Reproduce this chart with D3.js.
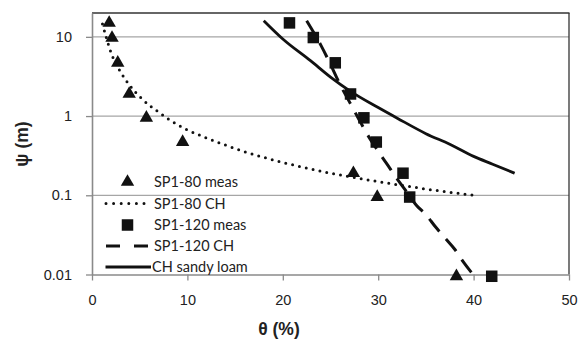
<!DOCTYPE html>
<html>
<head>
<meta charset="utf-8">
<script src="https://cdn.jsdelivr.net/npm/d3@7/dist/d3.min.js"></script>
<style>
  html, body { margin: 0; padding: 0; background: #fff; }
  svg { display: block; }
</style>
</head>
<body>
<svg id="chart" width="582" height="340"></svg>
<script>
// ---- data ----
const xTicks = [0, 10, 20, 30, 40, 50];
const yTicks = [0.01, 0.1, 1, 10];
const yTickLabels = ["0.01", "0.1", "1", "10"];

const sp80MeasTheta = [1.8, 2.1, 2.7, 3.9, 5.7, 9.5, 27.4, 29.9, 38.2];
const sp80MeasPsi   = [15, 9.7, 4.7, 1.9, 0.95, 0.47, 0.19, 0.095, 0.0095];

const sp120MeasTheta = [20.7, 23.2, 25.5, 27.1, 28.5, 29.8, 32.6, 33.3, 41.9];
const sp120MeasPsi   = [15, 9.8, 4.7, 1.9, 0.95, 0.47, 0.19, 0.095, 0.0095];

const sp80ChTheta = [1.1, 1.5, 2, 3, 4, 5, 6, 7, 8, 10, 12, 14, 16, 20, 25, 30, 35, 40];
const sp80ChPsi   = [14.5, 9.8, 6.3, 3.6, 2.4, 1.76, 1.37, 1.12, 0.92, 0.67, 0.53, 0.43, 0.355, 0.26, 0.19, 0.149, 0.12, 0.1];

const sp120ChTheta = [22.5, 24, 25, 26, 27, 28, 29, 30, 31, 32, 33, 34, 35, 36, 37, 38, 39, 40];
const sp120ChPsi   = [16, 7.8, 4.5, 2.5, 1.5, 0.9, 0.55, 0.36, 0.24, 0.16, 0.11, 0.075, 0.057, 0.04, 0.029, 0.021, 0.014, 0.0098];

const loamTheta = [18, 20, 22.9, 25, 27.1, 30, 32, 35, 37.5, 40, 42, 44.3];
const loamPsi   = [16, 9.4, 5, 3.1, 2.05, 1.28, 0.94, 0.6, 0.44, 0.31, 0.247, 0.19];

const legendLabels = ["SP1-80 meas", "SP1-80 CH", "SP1-120 meas", "SP1-120 CH", "CH sandy loam"];

// ---- layout ----
const svg = d3.select("#chart");
const L = 92, R = 569, T = 13, B = 274.5;
const x = d3.scaleLinear().domain([0, 50]).range([L, R]);
const y = d3.scaleLog().domain([0.01, 20]).range([B, T]);

const axisColor = "#8a8a8a";
const gridColor = "#a6a6a6";
const tickFont = "Liberation Sans, Arial, sans-serif";

// grid lines
svg.append("g").selectAll("line")
  .data(yTicks.filter(v => v > 0.01))
  .join("line")
  .attr("x1", L).attr("x2", R)
  .attr("y1", d => y(d)).attr("y2", d => y(d))
  .attr("stroke", gridColor).attr("stroke-width", 1.2);

// top & right border
svg.append("line").attr("x1", L).attr("x2", R + 0.5).attr("y1", T).attr("y2", T)
  .attr("stroke", "#333").attr("stroke-width", 1.3);
svg.append("line").attr("x1", R).attr("x2", R).attr("y1", T).attr("y2", B)
  .attr("stroke", "#333").attr("stroke-width", 1.3);

// x axis
const xAxis = d3.axisBottom(x).tickValues(xTicks).tickSize(6).tickPadding(14).tickSizeOuter(0);
const gx = svg.append("g").attr("transform", `translate(0,${B})`).call(xAxis);
gx.select(".domain").attr("stroke", axisColor).attr("stroke-width", 1.6);
gx.selectAll(".tick line").attr("stroke", axisColor).attr("stroke-width", 1.3);
gx.selectAll(".tick text").attr("font-family", tickFont).attr("font-size", 14.5).attr("fill", "#222");

// y axis
const yAxis = d3.axisLeft(y).tickValues(yTicks)
  .tickFormat((d, i) => yTickLabels[i]).tickSize(6).tickPadding(14).tickSizeOuter(0);
const gy = svg.append("g").attr("transform", `translate(${L},0)`).call(yAxis);
gy.select(".domain").attr("stroke", axisColor).attr("stroke-width", 1.6);
gy.selectAll(".tick line").attr("stroke", axisColor).attr("stroke-width", 1.3);
gy.selectAll(".tick text").attr("font-family", tickFont).attr("font-size", 14.5).attr("fill", "#222");

// axis titles
svg.append("text").attr("x", 279).attr("y", 335)
  .attr("text-anchor", "middle")
  .attr("font-family", tickFont).attr("font-weight", "bold").attr("font-size", 17.5)
  .attr("fill", "#222").text("θ (%)");
svg.append("text").attr("transform", "translate(28,144) rotate(-90)")
  .attr("text-anchor", "middle")
  .attr("font-family", tickFont).attr("font-weight", "bold").attr("font-size", 17.5)
  .attr("fill", "#222").text("ψ (m)");

// curves
const line = d3.line().x(d => x(d[0])).y(d => y(d[1])).curve(d3.curveMonotoneX);
const zip = (a, b) => a.map((v, i) => [v, b[i]]);

svg.append("path").datum(zip(loamTheta, loamPsi)).attr("d", line)
  .attr("fill", "none").attr("stroke", "#111").attr("stroke-width", 2.8);

svg.append("path").datum(zip(sp80ChTheta, sp80ChPsi)).attr("d", line)
  .attr("fill", "none").attr("stroke", "#111").attr("stroke-width", 3)
  .attr("stroke-linecap", "round").attr("stroke-dasharray", "0,7");

svg.append("path").datum(zip(sp120ChTheta, sp120ChPsi)).attr("d", line)
  .attr("fill", "none").attr("stroke", "#111").attr("stroke-width", 3)
  .attr("stroke-dasharray", "16,10");

// markers
const tri = d3.symbol().type(d3.symbolTriangle).size(78);
svg.append("g").selectAll("path")
  .data(zip(sp80MeasTheta, sp80MeasPsi))
  .join("path")
  .attr("d", tri)
  .attr("transform", d => `translate(${x(d[0])},${y(d[1])})`)
  .attr("fill", "#111");

const sq = 11.5;
svg.append("g").selectAll("rect")
  .data(zip(sp120MeasTheta, sp120MeasPsi))
  .join("rect")
  .attr("x", d => x(d[0]) - sq / 2).attr("y", d => y(d[1]) - sq / 2)
  .attr("width", sq).attr("height", sq)
  .attr("fill", "#111");

// legend
const legendFont = "Lato, 'Open Sans', sans-serif";
const ly = [182, 203.5, 225, 246, 267];
const lg = svg.append("g");
lg.selectAll("text").data(legendLabels).join("text")
  .attr("x", (d, i) => i === 4 ? 152 : 154)
  .attr("y", (d, i) => ly[i])
  .attr("dy", "0.35em")
  .attr("font-family", legendFont).attr("font-size", 14.5)
  .attr("fill", "#222").text(d => d);

lg.append("path").attr("d", tri).attr("transform", `translate(127.5,${ly[0]})`).attr("fill", "#111");
lg.append("line").attr("x1", 106).attr("x2", 148).attr("y1", ly[1]).attr("y2", ly[1])
  .attr("stroke", "#111").attr("stroke-width", 3).attr("stroke-linecap", "round")
  .attr("stroke-dasharray", "0,7.6");
lg.append("rect").attr("x", 127.5 - sq / 2).attr("y", ly[2] - sq / 2)
  .attr("width", sq).attr("height", sq).attr("fill", "#111");
lg.append("line").attr("x1", 106).attr("x2", 149).attr("y1", ly[3]).attr("y2", ly[3])
  .attr("stroke", "#111").attr("stroke-width", 3).attr("stroke-dasharray", "14,14");
lg.append("line").attr("x1", 105.5).attr("x2", 151).attr("y1", ly[4]).attr("y2", ly[4])
  .attr("stroke", "#111").attr("stroke-width", 3);
</script>
</body>
</html>
